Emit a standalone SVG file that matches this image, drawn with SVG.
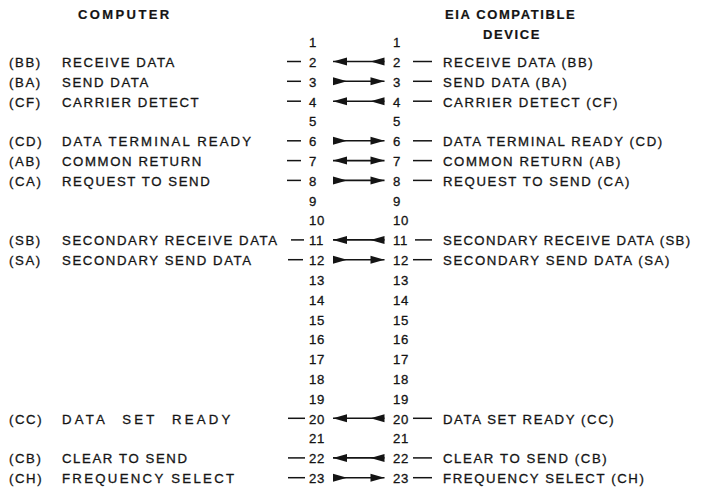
<svg xmlns="http://www.w3.org/2000/svg" width="702" height="492" viewBox="0 0 702 492">
<style>
text{font-family:"Liberation Sans",Arial,sans-serif;font-size:13.2px;fill:#141414;stroke:#141414;stroke-width:0.3px;letter-spacing:1.6px}
.h{font-weight:bold;font-size:13px;stroke-width:0.2px}
.n{letter-spacing:0.6px}
.d{stroke:#141414;stroke-width:1.5;fill:none}
.a{stroke:#141414;stroke-width:1.6;fill:none;marker-end:url(#tip);marker-start:url(#base)}
.b{marker-start:url(#tipRev)}
</style>
<defs>
<marker id="tip" markerUnits="userSpaceOnUse" markerWidth="14" markerHeight="9" viewBox="0 -4.5 14 9" refX="14" refY="0" orient="auto" overflow="visible"><path d="M0,-4 L14,0 L0,4 Z" fill="#141414"/></marker>
<marker id="base" markerUnits="userSpaceOnUse" markerWidth="14" markerHeight="9" viewBox="0 -4.5 14 9" refX="0" refY="0" orient="auto" overflow="visible"><path d="M0,-4 L14,0 L0,4 Z" fill="#141414"/></marker>
<marker id="tipRev" markerUnits="userSpaceOnUse" markerWidth="14" markerHeight="9" viewBox="0 -4.5 14 9" refX="14" refY="0" orient="auto-start-reverse" overflow="visible"><path d="M0,-4 L14,0 L0,4 Z" fill="#141414"/></marker>
</defs>
<rect width="702" height="492" fill="#fff"/>
<g id="hdr-computer"><text class="h" x="78" y="18.5" style="letter-spacing:2.4px">COMPUTER</text></g>
<g id="hdr-device"><text class="h" x="445" y="19">EIA COMPATIBLE</text><text class="h" x="483" y="39">DEVICE</text></g>

<g id="left">
<g id="L1"><text class="n" x="309" y="47">1</text></g>
<g id="L2"><text x="9" y="66.8">(BB)</text><text x="62" y="66.8">RECEIVE DATA</text><text class="n" x="309" y="66.8">2</text></g>
<g id="L3"><text x="9" y="86.6">(BA)</text><text x="62" y="86.6">SEND DATA</text><text class="n" x="309" y="86.6">3</text></g>
<g id="L4"><text x="9" y="106.5">(CF)</text><text x="62" y="106.5">CARRIER DETECT</text><text class="n" x="309" y="106.5">4</text></g>
<g id="L5"><text class="n" x="309" y="126.3">5</text></g>
<g id="L6"><text x="9" y="146.1">(CD)</text><text x="62" y="146.1" style="letter-spacing:2.1px">DATA TERMINAL READY</text><text class="n" x="309" y="146.1">6</text></g>
<g id="L7"><text x="9" y="165.9">(AB)</text><text x="62" y="165.9">COMMON RETURN</text><text class="n" x="309" y="165.9">7</text></g>
<g id="L8"><text x="9" y="185.7">(CA)</text><text x="62" y="185.7">REQUEST TO SEND</text><text class="n" x="309" y="185.7">8</text></g>
<g id="L9"><text class="n" x="309" y="205.6">9</text></g>
<g id="L10"><text class="n" x="309" y="225.4">10</text></g>
<g id="L11"><text x="9" y="245.2">(SB)</text><text x="62" y="245.2">SECONDARY RECEIVE DATA</text><text class="n" x="309" y="245.2">11</text></g>
<g id="L12"><text x="9" y="265">(SA)</text><text x="62" y="265">SECONDARY SEND DATA</text><text class="n" x="309" y="265">12</text></g>
<g id="L13"><text class="n" x="309" y="284.8">13</text></g>
<g id="L14"><text class="n" x="309" y="304.7">14</text></g>
<g id="L15"><text class="n" x="309" y="324.5">15</text></g>
<g id="L16"><text class="n" x="309" y="344.3">16</text></g>
<g id="L17"><text class="n" x="309" y="364.1">17</text></g>
<g id="L18"><text class="n" x="309" y="383.9">18</text></g>
<g id="L19"><text class="n" x="309" y="403.8">19</text></g>
<g id="L20"><text x="9" y="423.6">(CC)</text><text x="62" y="423.6" style="letter-spacing:3.2px;word-spacing:8px">DATA SET READY</text><text class="n" x="309" y="423.6">20</text></g>
<g id="L21"><text class="n" x="309" y="443.4">21</text></g>
<g id="L22"><text x="9" y="463.2">(CB)</text><text x="62" y="463.2">CLEAR TO SEND</text><text class="n" x="309" y="463.2">22</text></g>
<g id="L23"><text x="9" y="483">(CH)</text><text x="62" y="483" style="letter-spacing:2.3px">FREQUENCY SELECT</text><text class="n" x="309" y="483">23</text></g>
</g>

<g id="right">
<g id="R1"><text class="n" x="393" y="47">1</text></g>
<g id="R2"><text class="n" x="393" y="66.8">2</text><text x="443" y="66.8">RECEIVE DATA (BB)</text></g>
<g id="R3"><text class="n" x="393" y="86.6">3</text><text x="443" y="86.6">SEND DATA (BA)</text></g>
<g id="R4"><text class="n" x="393" y="106.5">4</text><text x="443" y="106.5">CARRIER DETECT (CF)</text></g>
<g id="R5"><text class="n" x="393" y="126.3">5</text></g>
<g id="R6"><text class="n" x="393" y="146.1">6</text><text x="443" y="146.1">DATA TERMINAL READY (CD)</text></g>
<g id="R7"><text class="n" x="393" y="165.9">7</text><text x="443" y="165.9">COMMON RETURN (AB)</text></g>
<g id="R8"><text class="n" x="393" y="185.7">8</text><text x="443" y="185.7">REQUEST TO SEND (CA)</text></g>
<g id="R9"><text class="n" x="393" y="205.6">9</text></g>
<g id="R10"><text class="n" x="393" y="225.4">10</text></g>
<g id="R11"><text class="n" x="393" y="245.2">11</text><text x="443" y="245.2" style="letter-spacing:1.4px">SECONDARY RECEIVE DATA (SB)</text></g>
<g id="R12"><text class="n" x="393" y="265">12</text><text x="443" y="265">SECONDARY SEND DATA (SA)</text></g>
<g id="R13"><text class="n" x="393" y="284.8">13</text></g>
<g id="R14"><text class="n" x="393" y="304.7">14</text></g>
<g id="R15"><text class="n" x="393" y="324.5">15</text></g>
<g id="R16"><text class="n" x="393" y="344.3">16</text></g>
<g id="R17"><text class="n" x="393" y="364.1">17</text></g>
<g id="R18"><text class="n" x="393" y="383.9">18</text></g>
<g id="R19"><text class="n" x="393" y="403.8">19</text></g>
<g id="R20"><text class="n" x="393" y="423.6">20</text><text x="443" y="423.6">DATA SET READY (CC)</text></g>
<g id="R21"><text class="n" x="393" y="443.4">21</text></g>
<g id="R22"><text class="n" x="393" y="463.2">22</text><text x="443" y="463.2">CLEAR TO SEND (CB)</text></g>
<g id="R23"><text class="n" x="393" y="483">23</text><text x="443" y="483">FREQUENCY SELECT (CH)</text></g>
</g>

<g id="connectors">
<g class="d">
<line x1="287" y1="61.5" x2="301" y2="61.5"/><line x1="413" y1="61.5" x2="432" y2="61.5"/>
<line x1="287" y1="81.3" x2="301" y2="81.3"/><line x1="413" y1="81.3" x2="432" y2="81.3"/>
<line x1="287" y1="101.2" x2="301" y2="101.2"/><line x1="413" y1="101.2" x2="432" y2="101.2"/>
<line x1="287" y1="140.8" x2="301" y2="140.8"/><line x1="413" y1="140.8" x2="432" y2="140.8"/>
<line x1="287" y1="160.6" x2="301" y2="160.6"/><line x1="413" y1="160.6" x2="432" y2="160.6"/>
<line x1="287" y1="180.4" x2="301" y2="180.4"/><line x1="413" y1="180.4" x2="432" y2="180.4"/>
<line x1="291" y1="239.9" x2="304" y2="239.9"/><line x1="415" y1="239.9" x2="432" y2="239.9"/>
<line x1="288" y1="259.7" x2="303" y2="259.7"/><line x1="413" y1="259.7" x2="432" y2="259.7"/>
<line x1="288" y1="418.3" x2="305" y2="418.3"/><line x1="413" y1="418.3" x2="432" y2="418.3"/>
<line x1="288" y1="457.9" x2="305" y2="457.9"/><line x1="413" y1="457.9" x2="432" y2="457.9"/>
<line x1="288" y1="477.7" x2="305" y2="477.7"/><line x1="413" y1="477.7" x2="432" y2="477.7"/>
</g>
<path class="a" d="M384.5,61.5 H333"/>
<path class="a" d="M333,81.3 H384.5"/>
<path class="a" d="M384.5,101.2 H333"/>
<path class="a" d="M333,140.8 H384.5"/>
<path class="a b" d="M333,160.6 H384.5"/>
<path class="a" d="M333,180.4 H384.5"/>
<path class="a" d="M384.5,239.9 H333"/>
<path class="a" d="M333,259.7 H384.5"/>
<path class="a" d="M384.5,418.3 H333"/>
<path class="a" d="M384.5,457.9 H333"/>
<path class="a" d="M333,477.7 H384.5"/>
</g>
</svg>
